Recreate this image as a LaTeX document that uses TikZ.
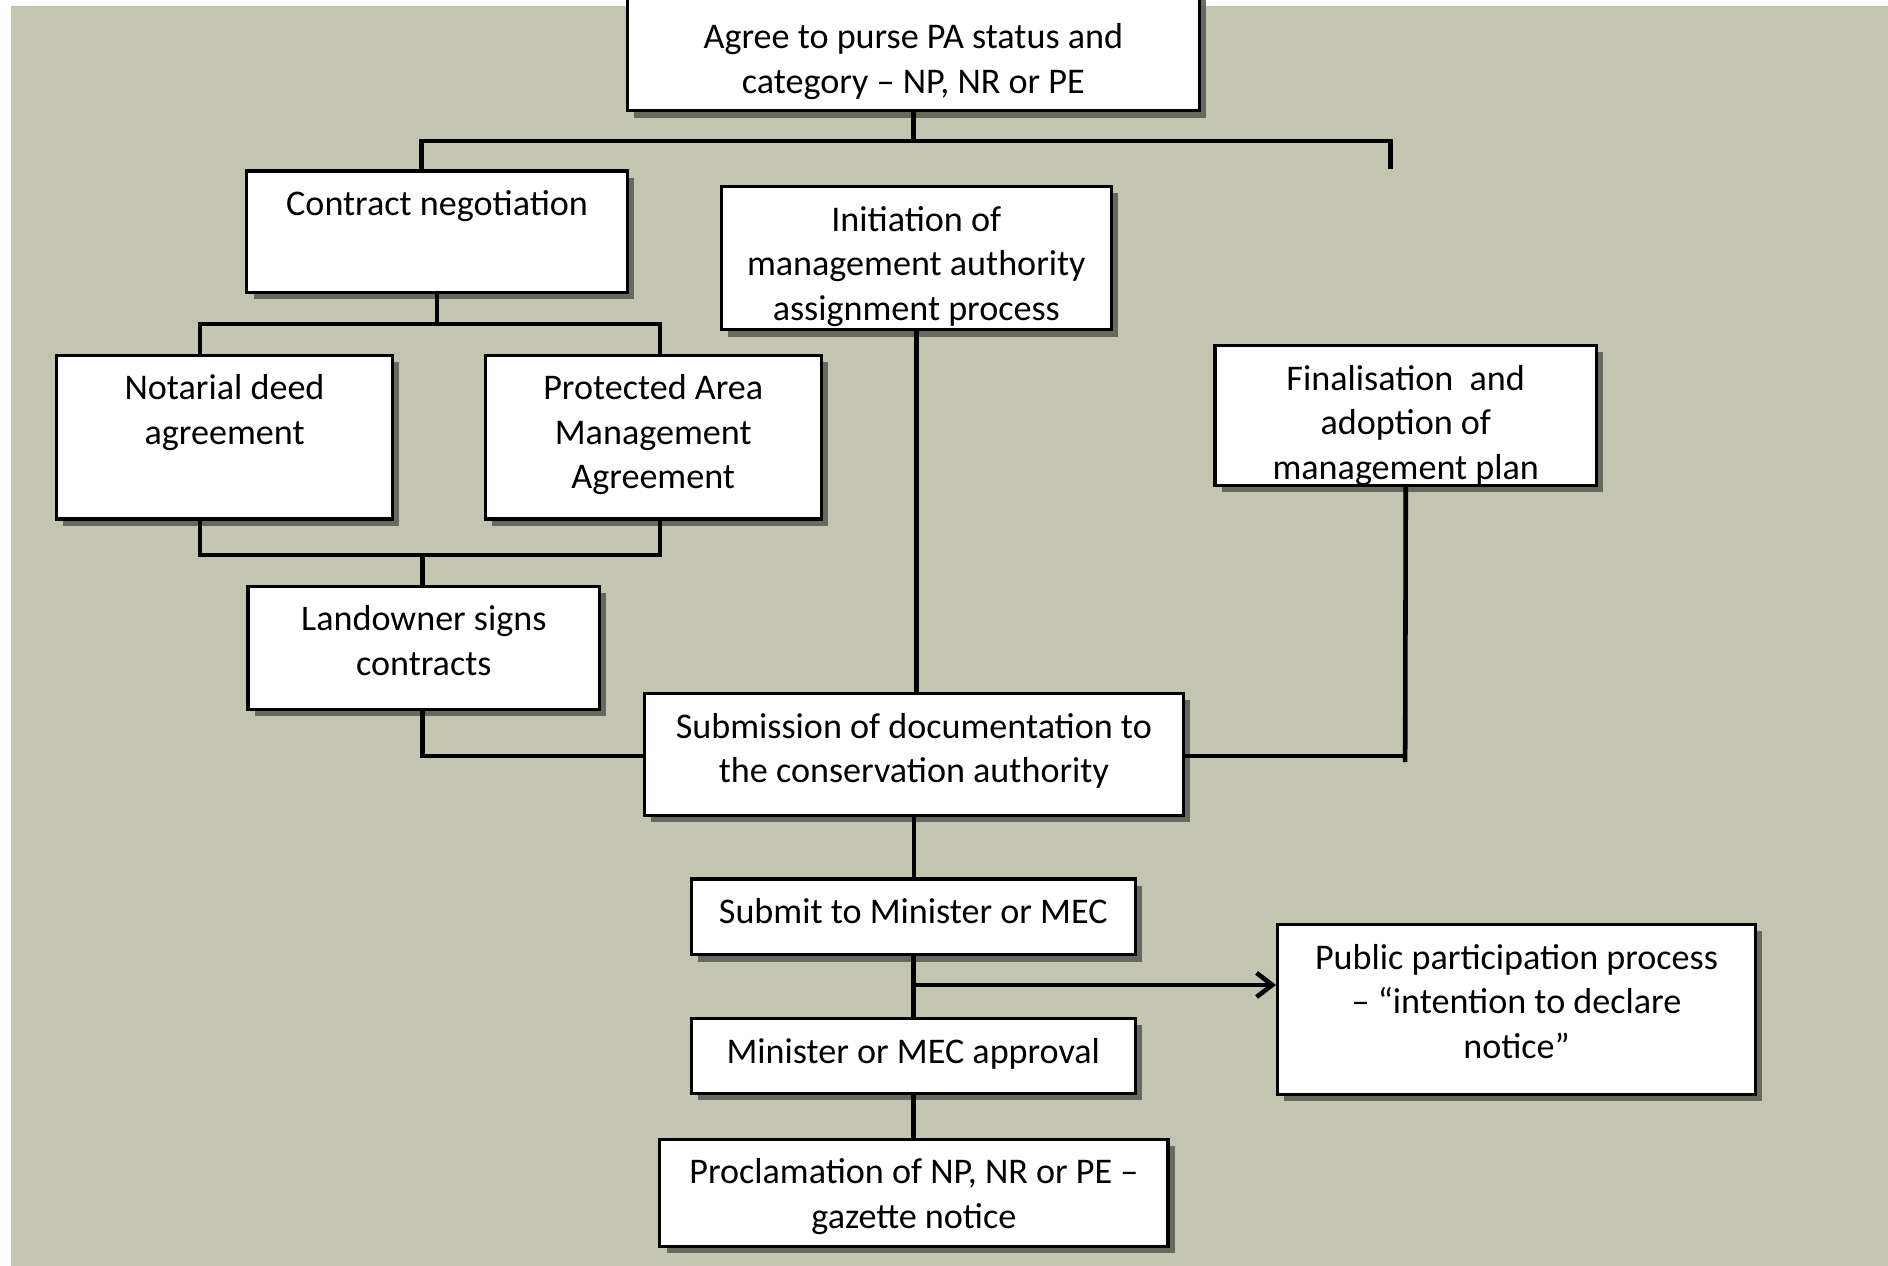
\documentclass[tikz,border=0pt]{standalone}
\usepackage{fontspec}
\setmainfont{Carlito}
\usetikzlibrary{fit,shadows,arrows.meta}
\definecolor{bgc}{HTML}{C3C5B1}
\definecolor{shc}{HTML}{5E5F57}
\tikzset{
  boxst/.style={draw=black, line width=1.3pt, fill=white, inner sep=0pt,
    drop shadow={shadow xshift=2.8pt, shadow yshift=-2.8pt, fill=shc, opacity=0.9}},
  txtst/.style={align=center, inner sep=0pt, font=\fontsize{15}{18.5}\selectfont},
  conn/.style={line width=1.9pt, line join=miter, draw=black}
}
\newcommand{\pbox}[6]{%
  \node[boxst, fit={(#2,#3) (#4,#5)}] (#1) {};
  \node[txtst, anchor=north] (#1t) at ([yshift=-6pt]#1.north) {\strut #6};
}
\begin{document}
\begin{tikzpicture}[x=0.5pt,y=-0.5pt]
\useasboundingbox (0,0) rectangle (1568,1051);
\clip (0,0) rectangle (1568,1051);
\fill[white] (0,0) rectangle (1568,1051);
\fill[bgc] (9,5) rectangle (1568,1051);

% top box (top edge hidden above the picture)
\node[boxst, fit={(521,-20) (996,92)}] (top) {};
\node[txtst, anchor=north] (topt) at (758.5,14) {\strut Agree to purse PA status and\\category – NP, NR or PE};

\pbox{cn}{205}{142}{521}{243}{Contract negotiation}
\pbox{nd}{47}{295}{326}{431}{Notarial deed\\agreement}
\pbox{pama}{403}{295}{682}{431}{Protected Area\\Management\\Agreement}
\pbox{lo}{206}{487}{498}{589}{Landowner signs\\contracts}
\pbox{init}{599}{155}{923}{274}{Initiation of\\management authority\\assignment process}
\pbox{fin}{1009}{287}{1326}{403}{Finalisation\ \ and\\adoption of\\management plan}
\pbox{sub}{535}{576}{983}{677}{Submission of documentation to\\the conservation authority}
\pbox{smt}{574}{730}{943}{793}{Submit to Minister or MEC}
\pbox{pub}{1061}{768}{1458}{909}{Public participation process\\– “intention to declare\\notice”}
\pbox{mn}{574}{846}{943}{908}{Minister or MEC approval}
\pbox{pr}{548}{946}{970}{1035}{Proclamation of NP, NR or PE –\\gazette notice}

% connectors
\coordinate (c1) at (350,117);
\coordinate (c2) at (1155,117);
\coordinate (c2e) at (1155,140);
\draw[conn] (top.south) -- (top.south |- c1);
\draw[conn] (cn.north -| c1) -- (c1) -- (c2) -- (c2e);

\coordinate (d1) at (166,269);
\coordinate (d2) at (548,269);
\draw[conn] (cn.south) -- (cn.south |- d1);
\draw[conn] (nd.north -| d1) -- (d1) -- (d2) -- (pama.north -| d2);

\coordinate (e1) at (166,461);
\coordinate (e2) at (548,461);
\coordinate (e3) at (351,461);
\draw[conn] (nd.south -| e1) -- (e1) -- (e2) -- (pama.south -| e2);
\draw[conn] (e3) -- (lo.north -| e3);

\coordinate (f1) at (351,628);
\draw[conn] (lo.south -| f1) -- (f1) -- (sub.west |- f1);

\draw[conn] (init.south) -- (init.south |- sub.north);

\coordinate (g1) at (1167,628);
\coordinate (g2) at (1167,633);
\draw[conn] (sub.east |- g1) -- (g1);
\draw[conn] (fin.south) -- (g2);

\draw[conn] (sub.south) -- (sub.south |- smt.north);
\draw[conn] (smt.south) -- (mn.north);
\coordinate (h1) at (758.5,818);
\draw[conn, -{Straight Barb[length=6.5pt, width=10pt, line width=1.9pt]}] (h1) -- (pub.west |- h1);
\draw[conn] (mn.south) -- (mn.south |- pr.north);
\end{tikzpicture}
\end{document}
